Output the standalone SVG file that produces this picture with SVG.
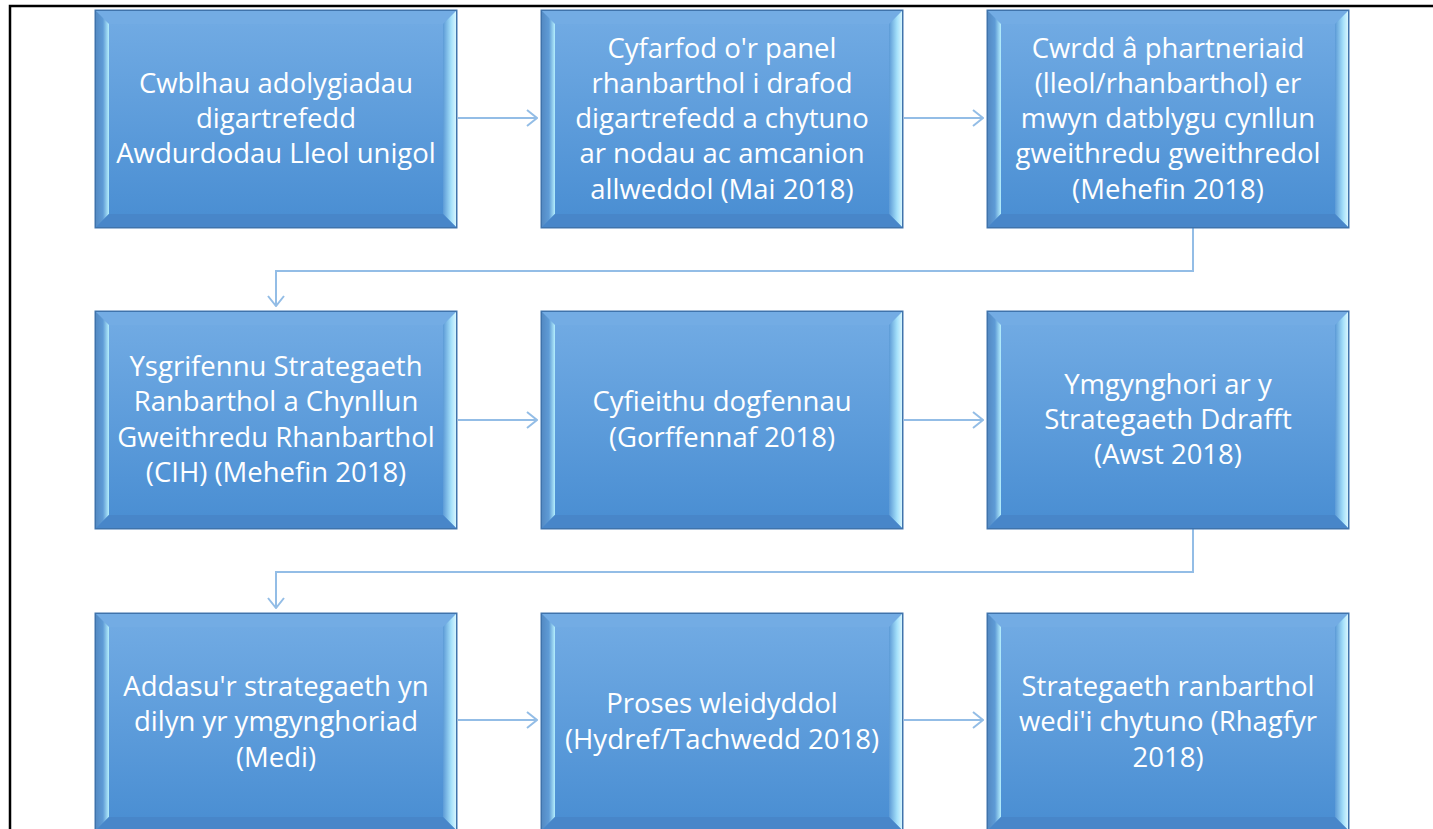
<svg xmlns="http://www.w3.org/2000/svg" width="1433" height="829" viewBox="0 0 1433 829">
<defs>
<linearGradient id="face" x1="0" y1="0" x2="0" y2="1">
<stop offset="0" stop-color="#70aae3"/>
<stop offset="1" stop-color="#4b8fd3"/>
</linearGradient>
<linearGradient id="lb" x1="0" y1="0" x2="1" y2="0">
<stop offset="0" stop-color="#5389c2"/>
<stop offset="0.55" stop-color="#5e9bd6"/>
<stop offset="1" stop-color="#b5effd"/>
</linearGradient>
<linearGradient id="rb" x1="0" y1="0" x2="1" y2="0">
<stop offset="0" stop-color="#5c9ad6"/>
<stop offset="0.6" stop-color="#a4e0fa"/>
<stop offset="1" stop-color="#dcf8fe"/>
</linearGradient>
<marker id="ah" viewBox="0 0 12 18" refX="11" refY="9" markerWidth="12" markerHeight="18" markerUnits="userSpaceOnUse" orient="auto">
<path d="M1,1 L11,9 L1,17" fill="none" stroke="#93bde6" stroke-width="2"/>
</marker>
<g id="box">
<rect x="0" y="0" width="362" height="218" fill="url(#face)" stroke="#4277b0" stroke-width="1"/>
<polygon points="0.5,0.5 361.5,0.5 348,14 14,14" fill="#73ace4"/>
<polygon points="0.5,0.5 14,14 14,204 0.5,217.5" fill="url(#lb)"/>
<polygon points="361.5,0.5 361.5,217.5 348,204 348,14" fill="url(#rb)"/>
<polygon points="0.5,217.5 14,204 348,204 361.5,217.5" fill="#4886c9"/>
<rect x="14" y="14" width="334" height="190" fill="url(#face)"/>
<rect x="0.5" y="0.5" width="361" height="217" fill="none" stroke="#3f73ab" stroke-width="1"/>
</g>
</defs>
<style>
.t{font-family:"Open Sans","Liberation Sans",sans-serif;font-size:27.5px;fill:#ffffff;text-anchor:middle}
.c{fill:none;stroke:#93bde6;stroke-width:2}
</style>
<rect x="0" y="0" width="1433" height="829" fill="#ffffff"/>
<path d="M10,829 V6 H1433" fill="none" stroke="#000000" stroke-width="2.5"/>

<g id="connectors">
<path class="c" d="M458,118 H537" marker-end="url(#ah)"/>
<path class="c" d="M904,118 H983" marker-end="url(#ah)"/>
<path class="c" d="M1193,228 V271 H276 V306" marker-end="url(#ah)"/>
<path class="c" d="M458,420 H537" marker-end="url(#ah)"/>
<path class="c" d="M904,420 H983" marker-end="url(#ah)"/>
<path class="c" d="M1193,529 V572 H276 V608" marker-end="url(#ah)"/>
<path class="c" d="M458,720 H537" marker-end="url(#ah)"/>
<path class="c" d="M904,720 H983" marker-end="url(#ah)"/>
</g>

<g id="n1"><use href="#box" x="95" y="10"/>
<text class="t"><tspan x="276" y="93">Cwblhau adolygiadau</tspan><tspan x="276" y="128">digartrefedd</tspan><tspan x="276" y="163">Awdurdodau Lleol unigol</tspan></text></g>
<g id="n2"><use href="#box" x="541" y="10"/>
<text class="t"><tspan x="722" y="57.5">Cyfarfod o'r panel</tspan><tspan x="722" y="92.8">rhanbarthol i drafod</tspan><tspan x="722" y="128">digartrefedd a chytuno</tspan><tspan x="722" y="163.3">ar nodau ac amcanion</tspan><tspan x="722" y="198.6">allweddol (Mai 2018)</tspan></text></g>
<g id="n3"><use href="#box" x="987" y="10"/>
<text class="t"><tspan x="1168" y="57.5">Cwrdd â phartneriaid</tspan><tspan x="1168" y="92.8">(lleol/rhanbarthol) er</tspan><tspan x="1168" y="128">mwyn datblygu cynllun</tspan><tspan x="1168" y="163.3">gweithredu gweithredol</tspan><tspan x="1168" y="198.6">(Mehefin 2018)</tspan></text></g>

<g id="n4"><use href="#box" x="95" y="311"/>
<text class="t"><tspan x="276" y="376">Ysgrifennu Strategaeth</tspan><tspan x="276" y="411.4">Ranbarthol a Chynllun</tspan><tspan x="276" y="446.7">Gweithredu Rhanbarthol</tspan><tspan x="276" y="482">(CIH) (Mehefin 2018)</tspan></text></g>
<g id="n5"><use href="#box" x="541" y="311"/>
<text class="t"><tspan x="722" y="411.4">Cyfieithu dogfennau</tspan><tspan x="722" y="446.7">(Gorffennaf 2018)</tspan></text></g>
<g id="n6"><use href="#box" x="987" y="311"/>
<text class="t"><tspan x="1168" y="393.7">Ymgynghori ar y</tspan><tspan x="1168" y="429">Strategaeth Ddrafft</tspan><tspan x="1168" y="464.3">(Awst 2018)</tspan></text></g>

<g id="n7"><use href="#box" x="95" y="613"/>
<text class="t"><tspan x="276" y="696">Addasu'r strategaeth yn</tspan><tspan x="276" y="731.3">dilyn yr ymgynghoriad</tspan><tspan x="276" y="766.6">(Medi)</tspan></text></g>
<g id="n8"><use href="#box" x="541" y="613"/>
<text class="t"><tspan x="722" y="713.4">Proses wleidyddol</tspan><tspan x="722" y="748.7">(Hydref/Tachwedd 2018)</tspan></text></g>
<g id="n9"><use href="#box" x="987" y="613"/>
<text class="t"><tspan x="1168" y="696">Strategaeth ranbarthol</tspan><tspan x="1168" y="731.3">wedi'i chytuno (Rhagfyr</tspan><tspan x="1168" y="766.6">2018)</tspan></text></g>
</svg>
